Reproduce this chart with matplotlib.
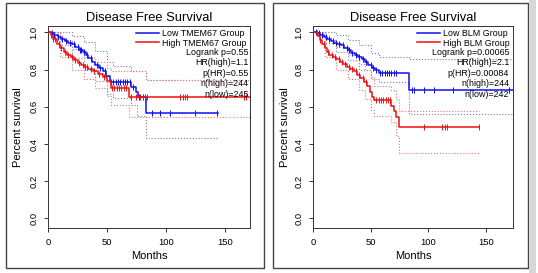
import matplotlib.pyplot as plt
from matplotlib.patches import Rectangle
import numpy as np

plt.rcParams['font.family'] = ['Liberation Sans', 'DejaVu Sans']

# ---Panel 1: TMEM67
tm_low_t = [0, 2, 5, 8, 11, 14, 17, 20, 23, 26, 29, 32, 34, 37, 40, 43, 46, 49, 52, 70, 74, 76, 83]
tm_low_s = [1.0, 0.995, 0.985, 0.975, 0.965, 0.955, 0.945, 0.935, 0.92, 0.905, 0.895, 0.88,
            0.86, 0.84, 0.825, 0.81, 0.79, 0.765, 0.735, 0.705, 0.68, 0.655, 0.565]
tm_low_end = 144
tm_high_t = [0, 2, 4, 7, 10, 13, 16, 19, 22, 25, 28, 31, 34, 38, 42, 46, 50, 53, 68]
tm_high_s = [1.0, 0.985, 0.965, 0.94, 0.915, 0.895, 0.88, 0.865, 0.85, 0.835, 0.825, 0.815,
             0.805, 0.79, 0.775, 0.76, 0.74, 0.70, 0.65]
tm_high_end = 171
tm_low_cens = [3, 5, 8, 12, 15, 18, 22, 25, 27, 28, 30, 33, 36, 41, 44, 48, 53, 55, 57, 59, 61,
               63, 65, 67, 69, 72, 77, 80, 82, 88, 95, 103, 124, 143]
tm_high_cens = [2, 4, 6, 9, 11, 14, 17, 20, 23, 26, 29, 31, 33, 36, 39, 43, 47, 54, 56, 58, 60,
                62, 64, 66, 70, 74, 78, 80, 82, 84, 112, 114, 116, 118, 166, 168]
# confidence bands
tm_low_ci_t = [0, 10, 20, 30, 40, 50, 55, 70, 75, 83]
tm_low_up = [1.0, 1.0, 0.98, 0.95, 0.90, 0.84, 0.82, 0.79, 0.79, 0.745]
tm_low_lo = [1.0, 0.93, 0.86, 0.80, 0.74, 0.67, 0.645, 0.61, 0.55, 0.43]
tm_high_ci_t = [0, 10, 20, 30, 40, 50, 53, 68, 83]
tm_high_up = [1.0, 0.96, 0.91, 0.87, 0.84, 0.81, 0.79, 0.79, 0.745]
tm_high_lo = [1.0, 0.87, 0.80, 0.75, 0.70, 0.66, 0.61, 0.545, 0.545]

# ---Panel 2: BLM
blm_low_t = [0, 3, 6, 9, 12, 15, 18, 21, 24, 27, 30, 33, 36, 39, 42, 45, 48, 51, 54, 57, 83]
blm_low_s = [1.0, 0.995, 0.985, 0.975, 0.965, 0.955, 0.945, 0.94, 0.93, 0.915, 0.905, 0.89,
             0.88, 0.87, 0.855, 0.84, 0.825, 0.81, 0.795, 0.78, 0.69]
blm_low_end = 174
blm_high_t = [0, 2, 4, 6, 8, 10, 12, 14, 17, 20, 23, 26, 29, 32, 35, 38, 41, 44, 47, 49, 51,
              53, 68, 70, 72, 75]
blm_high_s = [1.0, 0.995, 0.98, 0.96, 0.935, 0.915, 0.895, 0.88, 0.865, 0.855, 0.84, 0.83,
              0.815, 0.805, 0.79, 0.77, 0.755, 0.735, 0.71, 0.68, 0.655, 0.635, 0.605, 0.575,
              0.545, 0.49]
blm_high_end = 144
blm_low_cens = [2, 5, 8, 11, 14, 17, 20, 22, 26, 29, 31, 34, 37, 40, 43, 46, 50, 52, 55, 58, 60,
                62, 64, 66, 68, 70, 72, 86, 88, 96, 105, 122, 170]
blm_high_cens = [3, 6, 9, 13, 16, 19, 22, 25, 28, 31, 34, 37, 40, 43, 46, 55, 57, 59, 61, 63, 65,
                 67, 96, 112, 115, 116, 144]
blm_low_ci_t = [0, 10, 20, 30, 40, 50, 57, 83]
blm_low_up = [1.0, 1.0, 0.985, 0.96, 0.93, 0.89, 0.87, 0.855]
blm_low_lo = [1.0, 0.945, 0.895, 0.85, 0.80, 0.75, 0.735, 0.56]
blm_high_ci_t = [0, 10, 20, 30, 40, 45, 50, 53, 68, 72, 75]
blm_high_up = [1.0, 0.96, 0.92, 0.88, 0.83, 0.80, 0.76, 0.71, 0.69, 0.64, 0.575]
blm_high_lo = [1.0, 0.87, 0.80, 0.75, 0.69, 0.64, 0.585, 0.55, 0.52, 0.44, 0.35]

panels = [
    dict(gene="TMEM67", xmax=171,
         low=(tm_low_t, tm_low_s, tm_low_end, tm_low_cens, tm_low_ci_t, tm_low_up, tm_low_lo),
         high=(tm_high_t, tm_high_s, tm_high_end, tm_high_cens, tm_high_ci_t, tm_high_up, tm_high_lo),
         stats=["Logrank p=0.55", "HR(high)=1.1", "p(HR)=0.55", "n(high)=244", "n(low)=245"],
         pos=[0.0898, 0.1648, 0.3749, 0.7399], statx=0.995, ylab=-0.150),
    dict(gene="BLM", xmax=174,
         low=(blm_low_t, blm_low_s, blm_low_end, blm_low_cens, blm_low_ci_t, blm_low_up, blm_low_lo),
         high=(blm_high_t, blm_high_s, blm_high_end, blm_high_cens, blm_high_ci_t, blm_high_up, blm_high_lo),
         stats=["Logrank p=0.00065", "HR(high)=2.1", "p(HR)=0.00084", "n(high)=244", "n(low)=242"],
         pos=[0.5823, 0.1648, 0.3717, 0.7399], statx=0.98, ylab=-0.14),
]

fig = plt.figure(figsize=(5.38, 2.73), dpi=100)

# panel frames
fig.patches.append(Rectangle((0.0112, 0.0183), 0.4796, 0.9707, transform=fig.transFigure,
                             fill=False, edgecolor="#444444", linewidth=1.0))
fig.patches.append(Rectangle((0.5074, 0.0183), 0.474, 0.9707, transform=fig.transFigure,
                             fill=False, edgecolor="#444444", linewidth=1.0))
fig.patches.append(Rectangle((0.9835, 0.0), 0.012, 1.0, transform=fig.transFigure,
                             facecolor="#d8d8d8", edgecolor="none"))

for p in panels:
    ax = fig.add_axes(p["pos"])
    for key, col, cicol in [("low", "#1010f0", "#7a7ab8"), ("high", "#f01010", "#e07878")]:
        t, s, end, cens, ci_t, up, lo = p[key]
        ax.step(t + [end], s + [s[-1]], where="post", color=col, linewidth=1.1, zorder=3)
        ax.step(ci_t + [end], up + [up[-1]], where="post", color=cicol, linestyle=":",
                linewidth=0.8, zorder=2)
        ax.step(ci_t + [end], lo + [lo[-1]], where="post", color=cicol, linestyle=":",
                linewidth=0.8, zorder=2)
        idx = np.searchsorted(t, cens, side="right") - 1
        ax.plot(cens, np.array(s)[idx], linestyle="none", marker="|", markersize=4,
                markeredgewidth=0.7, color=col, zorder=3)

    ax.plot([], [], color="#1010f0", linewidth=1.1, label="Low " + p["gene"] + " Group")
    ax.plot([], [], color="#f01010", linewidth=1.1, label="High " + p["gene"] + " Group")
    ax.legend(loc="upper right", frameon=False, fontsize=6.4, handlelength=2.6,
              handletextpad=0.4, labelspacing=0.05, borderaxespad=0.15, borderpad=0.2)
    for i, line in enumerate(p["stats"]):
        ax.text(p["statx"], 0.870 - i * 0.052, line, transform=ax.transAxes, ha="right",
                va="center", fontsize=6.4)

    ax.set_xlim(0, p["xmax"])
    ax.set_ylim(-0.052, 1.034)
    ax.set_xticks([0, 50, 100, 150])
    ax.set_yticks([0.0, 0.2, 0.4, 0.6, 0.8, 1.0])
    ax.set_yticklabels(["0.0", "0.2", "0.4", "0.6", "0.8", "1.0"])
    ax.tick_params(axis="both", labelsize=6.8, length=3, width=0.7, color="#333333")
    ax.tick_params(axis="x", pad=4)
    ax.tick_params(axis="y", labelrotation=90, pad=4)
    for lab in ax.get_yticklabels():
        lab.set_va("center")
    for sp in ax.spines.values():
        sp.set_linewidth(0.7)
        sp.set_color("#333333")
    ax.text(0.5, 1.026, "Disease Free Survival", transform=ax.transAxes, ha="center",
            va="baseline", fontsize=9.3)
    ax.set_xlabel("Months", fontsize=8)
    ax.set_ylabel("Percent survival", fontsize=8, va="center")
    ax.xaxis.set_label_coords(0.5, -0.114)
    ax.yaxis.set_label_coords(p["ylab"], 0.5)

fig.savefig("out.png", dpi=100)
